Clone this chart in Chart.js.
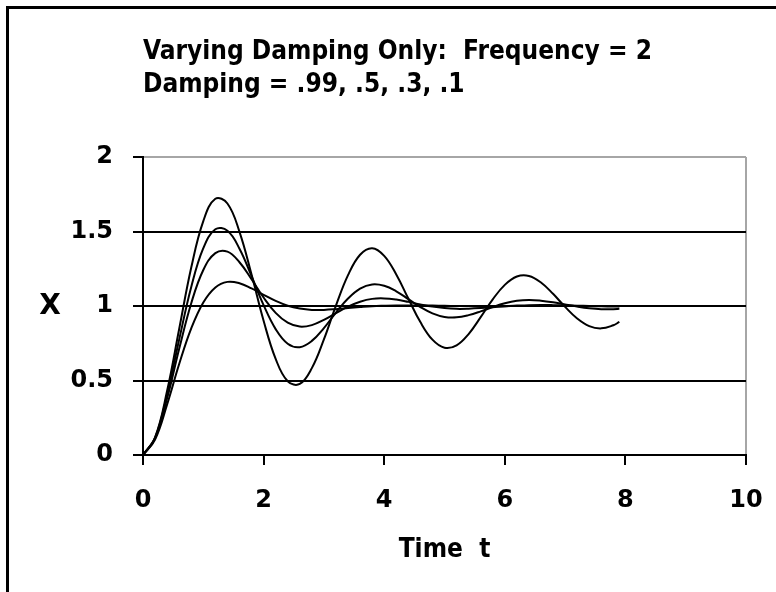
<!DOCTYPE html>
<html>
<head>
<meta charset="utf-8">
<script src="https://cdn.jsdelivr.net/npm/chart.js@4.4.1/dist/chart.umd.min.js"></script>
<style>
    html, body { margin: 0; padding: 0; background: #fff; }
    #frame {
        position: absolute; left: 6px; top: 6px; width: 790px; height: 600px;
        border-left: 3px solid #000; border-top: 3px solid #000;
    }
    #wrap { position: absolute; left: 0; top: 0; width: 776px; height: 592px; }
</style>
</head>
<body>
<div id="frame"></div>
<div id="wrap"><canvas id="dampingChart" width="776" height="592"></canvas></div>
<script>
// time samples (s)
const times = [0, 0.2, 0.4, 0.6, 0.8, 1.0, 1.2, 1.4, 1.6, 1.8, 2.0, 2.2, 2.4, 2.6, 2.8, 3.0, 3.2, 3.4, 3.6, 3.8,
    4.0, 4.2, 4.4, 4.6, 4.8, 5.0, 5.2, 5.4, 5.6, 5.8, 6.0, 6.2, 6.4, 6.6, 6.8, 7.0, 7.2, 7.4, 7.6, 7.8, 7.9]

// response x(t), one curve per damping value
const dampLow = [0, 0.118, 0.431, 0.846, 1.258, 1.570, 1.720, 1.688, 1.498, 1.211, 0.901, 0.645, 0.495, 0.477, 0.583,
    0.776, 1.003, 1.207, 1.344, 1.388, 1.337, 1.212, 1.050, 0.892, 0.774, 0.720, 0.736, 0.812, 0.925, 1.045,
    1.142, 1.198, 1.202, 1.158, 1.082, 0.994, 0.916, 0.865, 0.850, 0.871, 0.893]
const dampMidLow = [0, 0.115, 0.405, 0.775, 1.128, 1.388, 1.515, 1.505, 1.385, 1.201, 1.006, 0.845, 0.747, 0.724, 0.766,
    0.852, 0.956, 1.050, 1.117, 1.145, 1.136, 1.099, 1.046, 0.993, 0.951, 0.927, 0.924, 0.939, 0.964, 0.993,
    1.018, 1.035, 1.041, 1.036, 1.025, 1.010, 0.996, 0.985, 0.979, 0.979, 0.981]
const dampMid = [0, 0.111, 0.381, 0.713, 1.019, 1.242, 1.355, 1.365, 1.294, 1.180, 1.057, 0.954, 0.888, 0.862, 0.872,
    0.907, 0.952, 0.996, 1.029, 1.048, 1.051, 1.043, 1.028, 1.011, 0.996, 0.986, 0.981, 0.982, 0.986, 0.992,
    0.999, 1.003, 1.006, 1.007, 1.006, 1.004, 1.002, 1.000, 0.998, 0.997, 0.997]
const dampHigh = [0, 0.104, 0.340, 0.611, 0.850, 1.024, 1.125, 1.162, 1.153, 1.118, 1.075, 1.034, 1.002, 0.983, 0.974,
    0.974, 0.979, 0.986, 0.993, 0.999, 1.002, 1.004, 1.004, 1.004, 1.003, 1.001, 1.000, 1.000, 0.999, 0.999,
    0.999, 1.000, 1.000, 1.000, 1.000, 1.000, 1.000, 1.000, 1.000, 1.000, 1.000]

const seriesList = [dampLow, dampMidLow, dampMid, dampHigh]

const titleLines = ['Varying Damping Only:  Frequency = 2', 'Damping = .99, .5, .3, .1']
const xTitle = 'Time  t'
const yTitle = 'X'

const FONT = '"DejaVu Sans", sans-serif'
const TITLE_FONT = '"DejaVu Sans Condensed", "DejaVu Sans", sans-serif'

const toPoints = ys => ys.map((y, i) => ({x: times[i], y: y}))

// horizontal "X" label left of the y ticks
const yLabelPlugin = {
    id: 'yLabel',
    afterDraw: chart => {
        const ctx = chart.ctx
        const area = chart.chartArea
        ctx.save()
        ctx.font = 'bold 28px ' + FONT
        ctx.fillStyle = '#000'
        ctx.textAlign = 'center'
        ctx.textBaseline = 'middle'
        ctx.fillText(yTitle, 50, (area.top + area.bottom) / 2 + 1)
        ctx.restore()
    }
}

document.addEventListener('DOMContentLoaded', () => {
    const canvasCtx = document.getElementById('dampingChart')

    new Chart(canvasCtx, {
        type: 'line',
        data: {
            datasets: seriesList.map(ys => ({
                data: toPoints(ys),
                borderColor: '#000',
                borderWidth: 2,
                pointRadius: 0,
                fill: false,
                tension: 0.4,
            }))
        },
        options: {
            responsive: false,
            animation: false,
            layout: {
                padding: {left: 8, right: 30, top: 36, bottom: 20}
            },
            scales: {
                x: {
                    type: 'linear',
                    min: 0,
                    max: 10,
                    afterFit: s => {
                        s.height = 117
                        s.paddingLeft = 0
                        s.paddingRight = 0
                    },
                    ticks: {
                        stepSize: 2,
                        padding: 21,
                        color: '#000',
                        font: {family: FONT, size: 24, weight: 'bold'},
                    },
                    grid: {
                        drawOnChartArea: true,
                        color: c => (c.tick && c.tick.value === 10) ? '#a6a6a6' : 'rgba(0,0,0,0)',
                        tickColor: '#000',
                        tickLength: 10,
                        lineWidth: 2,
                    },
                    border: {display: true, color: '#000', width: 2},
                    title: {
                        display: true,
                        text: xTitle,
                        color: '#000',
                        font: {family: TITLE_FONT, size: 26, weight: 'bold'},
                        padding: {top: 0, bottom: 6},
                    }
                },
                y: {
                    min: 0,
                    max: 2,
                    afterFit: s => { s.width = 135 },
                    ticks: {
                        stepSize: 0.5,
                        padding: 20,
                        color: '#000',
                        font: {family: FONT, size: 24, weight: 'bold'},
                        callback: v => String(v),
                    },
                    grid: {
                        color: c => (c.tick && c.tick.value === 2) ? '#a6a6a6' : '#000',
                        tickColor: '#000',
                        tickLength: 10,
                        lineWidth: 2,
                    },
                    border: {display: true, color: '#000', width: 2},
                }
            },
            plugins: {
                legend: {display: false},
                tooltip: {enabled: false},
                title: {
                    display: true,
                    text: titleLines,
                    fullSize: false,
                    align: 'start',
                    color: '#000',
                    font: {family: TITLE_FONT, size: 26, weight: 'bold', lineHeight: 1.27},
                    padding: {top: 0, bottom: 55},
                }
            }
        },
        plugins: [yLabelPlugin]
    })
})
</script>
</body>
</html>
